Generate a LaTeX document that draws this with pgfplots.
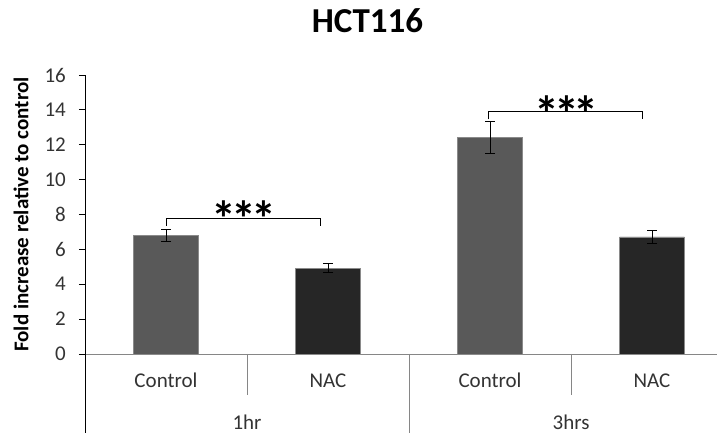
\documentclass[border=0pt]{standalone}
\usepackage{fontspec}
\setmainfont{Carlito}
\usepackage{pgfplots}
\usepackage{pgfplotstable}
\pgfplotsset{compat=1.18}

\definecolor{ctrlgray}{HTML}{595959}
\definecolor{nacgray}{HTML}{262626}
\definecolor{edgegray}{HTML}{8A8A8A}
\definecolor{axisgray}{HTML}{868686}
\definecolor{labelgray}{HTML}{333333}

% mean fold increase and error (one column per field)
\pgfplotstableread{
x y err
0 6.80 0.33
2 12.41 0.91
}\controltab
\pgfplotstableread{
x y err
1 4.93 0.26
3 6.72 0.36
}\nactab

\newcommand{\lblfont}{\fontsize{21}{21}\selectfont}
\newcommand{\stars}{{\bfseries\fontsize{50}{50}\selectfont *\kern-5.3pt*\kern-5.3pt*}}

\begin{document}
\begin{tikzpicture}
\begin{axis}[
  scale only axis, width=632pt, height=279pt,
  xmin=-0.5, xmax=3.401, ymin=0, ymax=16,
  axis lines*=left,
  axis line style={-},
  x axis line style={draw=axisgray, line width=0.9pt},
  y axis line style={draw=black, line width=0.9pt},
  ybar, bar width=0.4, bar shift=0pt,
  xtick={0,1,2,3},
  xticklabels={Control,NAC,Control,NAC},
  xtick style={draw=none},
  xticklabel style={anchor=base, font=\lblfont, text=labelgray, inner sep=0pt},
  xticklabel shift=27.5pt,
  ytick={0,2,...,16},
  ytick style={draw=black, line width=0.9pt},
  tick align=outside, major tick length=6pt,
  yticklabel style={font=\lblfont, text=labelgray, inner sep=0pt, xshift=-13pt},
  /pgf/number format/assume math mode=true,
  ylabel={Fold increase relative to control},
  ylabel style={font=\bfseries\lblfont, at={(axis description cs:-0.101,0.5)}, anchor=center},
  clip=false,
]
\addplot[fill=ctrlgray, draw=edgegray, line width=0.6pt,
  error bars/.cd, y dir=both, y explicit,
  error bar style={draw=black, line width=0.9pt},
  error mark options={draw=black, rotate=90, mark size=5pt, line width=0.9pt}]
  table[x=x, y=y, y error=err]{\controltab};
\addplot[fill=nacgray, draw=edgegray, line width=0.6pt,
  error bars/.cd, y dir=both, y explicit,
  error bar style={draw=black, line width=0.9pt},
  error mark options={draw=black, rotate=90, mark size=5pt, line width=0.9pt}]
  table[x=x, y=y, y error=err]{\nactab};

% significance brackets
\draw[black, line width=0.9pt] (axis cs:0.005,7.36) -- (axis cs:0.005,7.78)
  -- (axis cs:0.955,7.78) -- (axis cs:0.955,7.36);
\node[inner sep=0pt, anchor=center] at (axis cs:0.481,7.75) {\stars};
\draw[black, line width=0.9pt] (axis cs:1.99,13.45) -- (axis cs:1.99,13.89)
  -- (axis cs:2.94,13.89) -- (axis cs:2.94,13.45);
\node[inner sep=0pt, anchor=center] at (axis cs:2.473,13.78) {\stars};

% two-level category dividers
\draw[black, line width=0.9pt] (axis cs:-0.5,0) -- ++(0pt,-90pt);
\draw[axisgray, line width=0.9pt] (axis cs:0.5,0) -- ++(0pt,-41pt);
\draw[axisgray, line width=0.9pt] (axis cs:1.5,0) -- ++(0pt,-90pt);
\draw[axisgray, line width=0.9pt] (axis cs:2.5,0) -- ++(0pt,-41pt);
\node[anchor=base, font=\lblfont, text=labelgray, inner sep=0pt]
  at ([yshift=-75pt]axis cs:0.5,0) {1hr};
\node[anchor=base, font=\lblfont, text=labelgray, inner sep=0pt]
  at ([yshift=-75pt]axis cs:2.5,0) {3hrs};
\end{axis}
\node[anchor=base, font=\bfseries\fontsize{35}{35}\selectfont, inner sep=0pt]
  at (282.5pt,321pt) {HCT116};
\pgfresetboundingbox
\path (-85pt,-79pt) rectangle (632pt,354pt);
\end{tikzpicture}
\end{document}
